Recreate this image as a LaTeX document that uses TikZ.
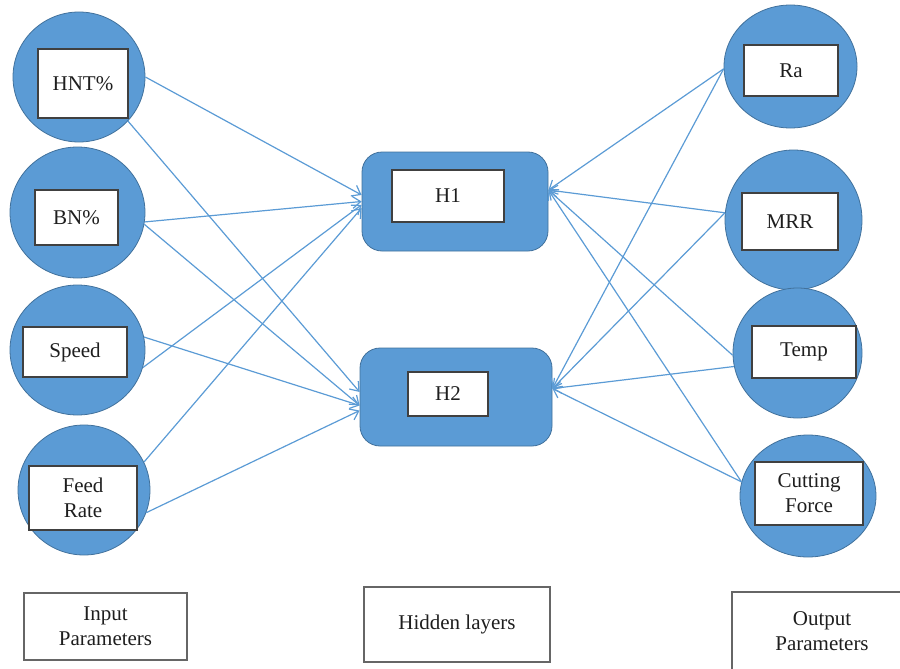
\documentclass[tikz,border=0pt]{standalone}
\usepackage{fontspec}
\setmainfont{Liberation Serif}
\usetikzlibrary{shapes.geometric,arrows.meta}

\definecolor{nodeblue}{RGB}{91,155,213}
\definecolor{nodeedge}{RGB}{65,113,156}
\definecolor{boxedge}{RGB}{64,64,64}
\definecolor{txt}{RGB}{30,30,30}

\begin{document}
\begin{tikzpicture}[x=1pt, y=-1pt, font=\fontsize{21}{25}\selectfont,
    unit/.style={ellipse, fill=nodeblue, draw=nodeedge, line width=0.8pt, inner sep=0pt},
    hiddenbox/.style={rectangle, rounded corners=20pt, fill=nodeblue, draw=nodeedge, line width=0.8pt, inner sep=0pt},
    namebox/.style={rectangle, fill=white, draw=boxedge, line width=1.6pt, inner sep=0pt, align=center, text=txt},
    legendbox/.style={rectangle, draw=boxedge!80, line width=1.1pt, inner sep=0pt, align=center, text=txt},
    link/.style={draw=nodeblue, line width=1.2pt, -{Straight Barb[length=8pt,width=12pt]}}]
  \clip (0,0) rectangle (900,669);

  % input layer
  \node[unit, minimum width=132, minimum height=130] (hnt) at (79,77) {};
  \node[unit, minimum width=135, minimum height=131] (bn) at (77.5,212.5) {};
  \node[unit, minimum width=135, minimum height=130] (speed) at (77.5,350) {};
  \node[unit, minimum width=132, minimum height=130] (feed) at (84,490) {};
  \node[namebox, minimum width=90, minimum height=69] (hntl) at (83,83.5) {HNT\%};
  \node[namebox, minimum width=83, minimum height=55] (bnl) at (76.5,217.5) {BN\%};
  \node[namebox, minimum width=104, minimum height=50] (speedl) at (75,352) {Speed};
  \node[namebox, minimum width=108, minimum height=64] (feedl) at (83,498) {Feed\\Rate};

  % hidden layer
  \node[hiddenbox, minimum width=186, minimum height=99] (h1) at (455,201.5) {};
  \node[hiddenbox, minimum width=192, minimum height=98] (h2) at (456,397) {};
  \node[namebox, minimum width=112, minimum height=52] (h1l) at (448,196) {H1};
  \node[namebox, minimum width=80, minimum height=44] (h2l) at (448,394) {H2};

  % output layer
  \node[unit, minimum width=133, minimum height=123] (ra) at (790.5,66.5) {};
  \node[unit, minimum width=137, minimum height=140] (mrr) at (793.5,220) {};
  \node[unit, minimum width=129, minimum height=130] (temp) at (797.5,353) {};
  \node[unit, minimum width=136, minimum height=122] (cf) at (808,496) {};
  \node[namebox, minimum width=94, minimum height=51] (ral) at (791,70.5) {Ra};
  \node[namebox, minimum width=96, minimum height=57] (mrrl) at (790,221.5) {MRR};
  \node[namebox, minimum width=104, minimum height=52] (templ) at (804,352) {Temp};
  \node[namebox, minimum width=108, minimum height=63] (cfl) at (809,493.5) {Cutting\\Force};

  % connections
  \draw[link] (hnt.0) -- (h1.176);
  \draw[link] (bn.-8) -- (h1.180);
  \draw[link] (speed.-15) -- (h1.182);
  \draw[link] (feed.25) -- (h1.184);
  \draw[link] (hnt.-42) -- (h2.177);
  \draw[link] (bn.-10) -- (h2.185);
  \draw[link] (speed.11) -- (h2.185);
  \draw[link] (feed.-20) -- (h2.188);

  \draw[link] (ra.182) -- (h1.7);
  \draw[link] (mrr.174) -- (h1.7);
  \draw[link] (temp.182) -- (h1.7);
  \draw[link] (cf.168) -- (h1.7);
  \draw[link] (ra.182) -- (h2.5);
  \draw[link] (mrr.174) -- (h2.5);
  \draw[link] (temp.192) -- (h2.5);
  \draw[link] (cf.168) -- (h2.5);

  % legend
  \node[legendbox, minimum width=163, minimum height=67] (inleg) at (105.5,626.5) {Input\\Parameters};
  \node[legendbox, minimum width=186, minimum height=75] (hidleg) at (457,624.5) {Hidden layers};
  \node[legendbox, minimum width=180, minimum height=78] (outleg) at (822,631) {Output\\Parameters};
\end{tikzpicture}
\end{document}
